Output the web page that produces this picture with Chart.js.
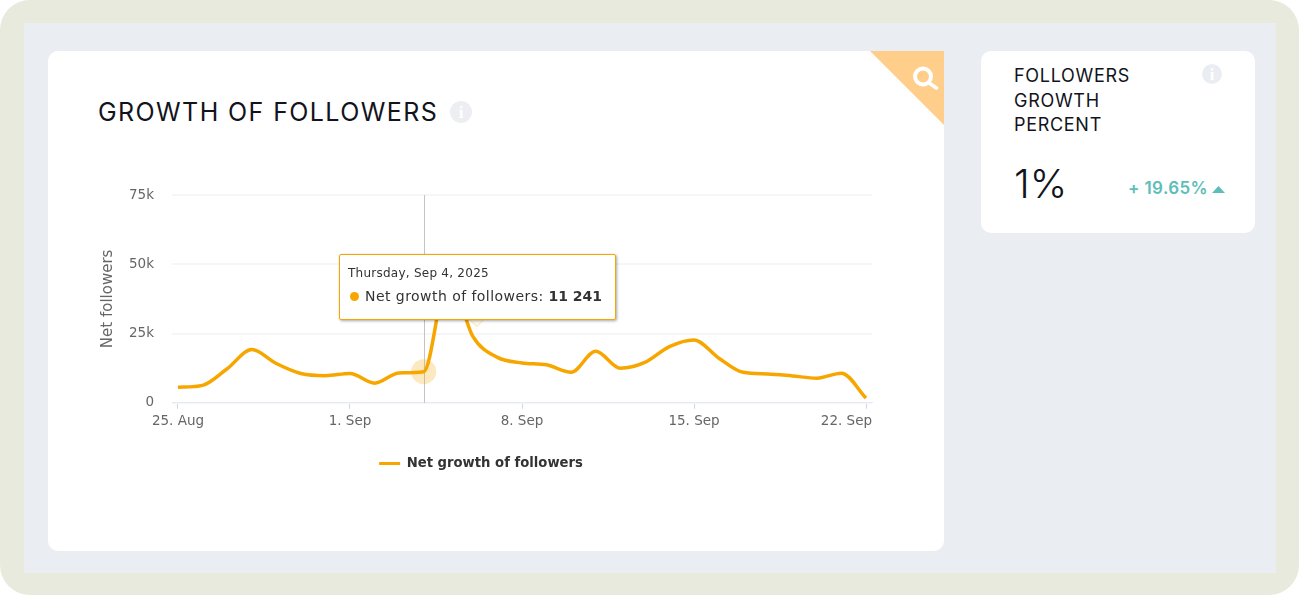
<!DOCTYPE html>
<html>
<head>
<meta charset="utf-8">
<title>Growth of followers</title>
<script src="https://cdn.jsdelivr.net/npm/chart.js@4/dist/chart.umd.min.js"></script>
<style>
    html, body { margin: 0; padding: 0; background: #fff; width: 1299px; height: 595px; overflow: hidden; }
    .frame { position: absolute; left: 0; top: 0; width: 1299px; height: 595px; background: #e8eadd; border-radius: 30px; }
    .inner { position: absolute; left: 24px; top: 23px; width: 1252px; height: 550px; background: #eaeef3; }
    .card { position: absolute; background: #fff; border-radius: 10px; overflow: hidden; }
    .main-card { left: 48px; top: 51px; width: 896px; height: 500px; }
    .side-card { left: 981px; top: 51px; width: 274px; height: 182px; }
    .abs { position: absolute; }
    .heading { font-family: Inter, "Open Sans", sans-serif; color: #12131c; white-space: nowrap; }
    #chartBox { position: absolute; left: 90px; top: 180px; width: 784px; height: 300px; }
    #tip { position: absolute; left: 339px; top: 254px; width: 275px; height: 63.5px; background: #fff;
        border: 1.5px solid #f7a600; border-radius: 2px; box-shadow: 1px 1px 3px rgba(0,0,0,.35);
        font-family: "DejaVu Sans", sans-serif; color: #333; white-space: nowrap; }
    #tip .t1 { position: absolute; left: 8px; top: 11px; font-size: 12px; letter-spacing: .25px; }
    #tip .t2 { position: absolute; left: 25px; top: 33px; font-size: 14px; letter-spacing: .45px; }
    #tip .dot { position: absolute; left: 9.5px; top: 37px; width: 9px; height: 9px; border-radius: 50%; background: #f7a600; }
    #tip b { font-weight: bold; letter-spacing: 0; }
</style>
</head>
<body>
<div class="frame"></div>
<div class="inner"></div>
<div class="card main-card"></div>
<div class="card side-card"></div>

<svg class="abs" style="left:0;top:0" width="1299" height="595">
    <polygon points="870,51 944,51 944,125" fill="#ffce8a"/>
    <circle cx="923" cy="76.5" r="8" fill="none" stroke="#fff" stroke-width="4"/>
    <line x1="929" y1="83" x2="936.5" y2="88" stroke="#fff" stroke-width="3.5" stroke-linecap="round"/>
    <circle cx="461" cy="112" r="11" fill="#eceef2"/>
    <text x="461" y="118" text-anchor="middle" font-family="Liberation Serif" font-weight="bold" font-size="17" fill="#fff">i</text>
    <circle cx="1212" cy="74" r="10" fill="#eaeef3"/>
    <text x="1212" y="80" text-anchor="middle" font-family="Liberation Serif" font-weight="bold" font-size="16" fill="#fff">i</text>
    <polygon points="1212,193 1225,193 1218.5,186" fill="#5dbdb9"/>
</svg>

<div class="abs heading" style="left:98px;top:97px;font-size:25px;line-height:30px;letter-spacing:1.4px">GROWTH OF FOLLOWERS</div>
<div class="abs heading" style="left:1014px;top:64px;font-size:18px;line-height:24.5px;letter-spacing:.7px">FOLLOWERS<br>GROWTH<br>PERCENT</div>
<div class="abs heading" style="left:1014px;top:157px;font-size:40px;line-height:54px;font-weight:300">1%</div>
<div class="abs heading" style="left:1128px;top:177px;font-size:17px;line-height:22px;font-weight:600;letter-spacing:.4px;color:#5dbdb9">+ 19.65%</div>

<div id="chartBox"><canvas id="growthChart"></canvas></div>

<svg class="abs" style="left:460px;top:315px" width="40" height="16">
    <polygon points="8,3.5 25,3.5 17,11.5" fill="#fff8ea" stroke="#f7dfae" stroke-width="1"/>
</svg>
<div id="tip">
    <span class="t1" id="tipTitle"></span>
    <span class="dot"></span>
    <span class="t2" id="tipBody"></span>
</div>

<script>
// Days on the x axis, 25 Aug to 22 Sep 2025
const dayLabels = [
    '25. Aug', '26. Aug', '27. Aug', '28. Aug', '29. Aug', '30. Aug', '31. Aug',
    '1. Sep', '2. Sep', '3. Sep', '4. Sep', '5. Sep', '6. Sep', '7. Sep',
    '8. Sep', '9. Sep', '10. Sep', '11. Sep', '12. Sep', '13. Sep', '14. Sep',
    '15. Sep', '16. Sep', '17. Sep', '18. Sep', '19. Sep', '20. Sep', '21. Sep', '22. Sep'
];
const netGrowth = [
    5600, 6300, 12300, 19200, 14200, 10600, 9800,
    10600, 7100, 10800, 11241, 46000, 24000, 16400,
    14400, 13700, 11000, 18600, 12500, 14600, 20300,
    22700, 16200, 11000, 10400, 9700, 8900, 10700, 1700
];
const yTicks = ['0', '25k', '50k', '75k'];
const seriesName = 'Net growth of followers';
const activeIndex = 10;
const activeTitle = 'Thursday, Sep 4, 2025';

const ORANGE = '#f7a600';
const AXIS_FONT = '"DejaVu Sans", sans-serif';

// Tooltip box sits over the chart like in the source page
document.getElementById('tipTitle').textContent = activeTitle;
document.getElementById('tipBody').innerHTML = seriesName + ': <b>' +
    netGrowth[activeIndex].toLocaleString('en-US').replace(',', ' ') + '</b>';

// Vertical crosshair on the hovered day, last x label kept inside the plot
const hoverPlugin = {
    id: 'hoverPlugin',
    beforeDraw(chart) {
        const items = chart.scales.x.getLabelItems();
        const last = items[items.length - 1];
        if (last) {
            last.options.textAlign = 'right';
            last.options.translation[0] = chart.chartArea.right;
        }
    },
    beforeDatasetsDraw(chart) {
        const x = Math.round(chart.scales.x.getPixelForValue(activeIndex)) + 0.5;
        const { top, bottom } = chart.chartArea;
        const ctx = chart.ctx;
        ctx.save();
        ctx.strokeStyle = '#c4c4c4';
        ctx.lineWidth = 1;
        ctx.beginPath();
        ctx.moveTo(x, top);
        ctx.lineTo(x, bottom);
        ctx.stroke();
        ctx.restore();
    }
};

new Chart(document.getElementById('growthChart'), {
    type: 'line',
    data: {
        datasets: [{
            label: seriesName,
            data: netGrowth.map((v, i) => ({ x: i, y: v })),
            borderColor: ORANGE,
            backgroundColor: ORANGE,
            borderWidth: 3.5,
            cubicInterpolationMode: 'monotone',
            pointRadius: ctx => ctx.dataIndex === activeIndex ? 12.5 : 0,
            pointBackgroundColor: 'rgba(247,166,0,0.25)',
            pointBorderWidth: 0,
            clip: false
        }]
    },
    options: {
        responsive: true,
        maintainAspectRatio: false,
        animation: false,
        events: [],
        layout: { padding: { top: 15, right: 2 } },
        plugins: {
            tooltip: { enabled: false },
            legend: {
                position: 'bottom',
                labels: {
                    boxWidth: 21,
                    boxHeight: 3,
                    padding: 10,
                    color: '#333',
                    font: { family: AXIS_FONT, size: 13.2, weight: 'bold' },
                    generateLabels(chart) {
                        const items = Chart.defaults.plugins.legend.labels.generateLabels(chart);
                        items.forEach(item => { item.lineWidth = 0; });
                        return items;
                    }
                }
            }
        },
        scales: {
            x: {
                type: 'linear',
                min: -0.244,
                max: 28.244,
                afterFit(scale) {
                    scale.height = 44;
                    scale.paddingLeft = 0;
                    scale.paddingRight = 0;
                },
                grid: { drawOnChartArea: false, color: '#ccd6eb', tickLength: 6, tickColor: '#ccd6eb' },
                border: { color: '#e6eaf2', width: 1 },
                ticks: {
                    stepSize: 7,
                    includeBounds: false,
                    autoSkip: false,
                    maxRotation: 0,
                    minRotation: 0,
                    padding: 5,
                    color: '#666',
                    font: { family: AXIS_FONT, size: 13.5 },
                    callback: value => dayLabels[value]
                }
            },
            y: {
                min: 0,
                max: 75000,
                afterFit(scale) {
                    scale.width = 82;
                    scale.paddingTop = 0;
                    scale.paddingBottom = 0;
                },
                title: {
                    display: true,
                    text: 'Net followers',
                    color: '#666',
                    font: { family: AXIS_FONT, size: 15 },
                    padding: { top: 9, bottom: 0 }
                },
                grid: { color: '#f5f6f8', lineWidth: 2, drawTicks: false },
                border: { display: false },
                ticks: {
                    stepSize: 25000,
                    padding: 18,
                    color: '#666',
                    font: { family: AXIS_FONT, size: 13.5 },
                    callback: value => yTicks[value / 25000]
                }
            }
        }
    },
    plugins: [hoverPlugin]
});
</script>
</body>
</html>
